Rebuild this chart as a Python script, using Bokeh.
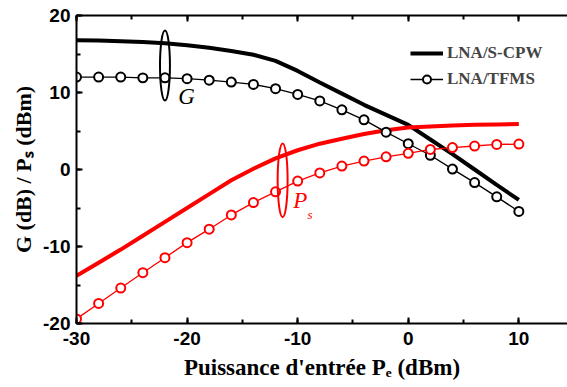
from bokeh.plotting import figure
from bokeh.models import (Label, Legend, LegendItem, LinearAxis, Range1d,
                          SingleIntervalTicker, CustomJSTickFormatter)
from bokeh.embed import file_html
from bokeh.resources import INLINE

# ---- data ----
pe = [-30, -28, -26, -24, -22, -20, -18, -16, -14, -12, -10,
      -8, -6, -4, -2, 0, 2, 4, 6, 8, 10]
g_cpw = [16.8, 16.75, 16.65, 16.55, 16.4, 16.15, 15.8, 15.4, 14.9, 14.1, 12.8,
         11.3, 9.85, 8.4, 7.1, 5.8, 3.9, 2.0, 0.0, -2.0, -3.95]
ps_cpw = [-13.8, -12.1, -10.4, -8.6, -6.8, -5.0, -3.2, -1.4, 0.1, 1.45, 2.5,
          3.35, 4.0, 4.6, 5.1, 5.45, 5.6, 5.7, 5.8, 5.85, 5.9]
g_tfms = [12.0, 12.0, 12.0, 11.9, 11.9, 11.8, 11.6, 11.35, 11.05, 10.5, 9.75,
          8.9, 7.75, 6.45, 4.85, 3.35, 1.85, 0.05, -1.7, -3.55, -5.45]
ps_tfms = [-19.4, -17.4, -15.4, -13.4, -11.45, -9.5, -7.75, -5.9, -4.3, -2.9, -1.5,
           -0.45, 0.45, 1.1, 1.65, 2.1, 2.6, 2.85, 3.05, 3.25, 3.3]

legend_labels = ["LNA/S-CPW", "LNA/TFMS"]
x_title = "Puissance d'entrée P\u2091 (dBm)"
y_title = "G (dB) / P\u209b (dBm)"
x_ticks_interval = 10
y_ticks_interval = 10

SERIF = "Liberation Serif"
SANS = "Liberation Sans"
RED = "#ff0000"

p = figure(frame_width=491, frame_height=308,
           x_range=Range1d(-30, 14.4), y_range=Range1d(-20, 20),
           output_backend="svg", toolbar_location=None,
           min_border_left=76, min_border_right=0, min_border_top=15,
           min_border_bottom=64)
p.xgrid.visible = False
p.ygrid.visible = False
p.outline_line_color = None
p.background_fill_color = "white"
p.border_fill_color = "white"

top = LinearAxis()
p.add_layout(top, "above")
bottom = p.below[0]
left = p.left[0]

fmt = CustomJSTickFormatter(code="return tick.toFixed(0)")
for ax, interval in ((bottom, x_ticks_interval), (top, x_ticks_interval),
                     (left, y_ticks_interval)):
    ax.ticker = SingleIntervalTicker(interval=interval, num_minor_ticks=2)
    ax.formatter = fmt
    ax.axis_line_width = 2
    ax.axis_line_color = "black"
    ax.major_tick_in = 6
    ax.major_tick_out = 0
    ax.minor_tick_in = 4
    ax.minor_tick_out = 0
    ax.major_tick_line_width = 2
    ax.minor_tick_line_width = 2
    ax.major_label_text_font = SANS
    ax.major_label_text_font_style = "bold"
    ax.major_label_text_font_size = "19px"
    ax.major_label_text_color = "black"
    ax.axis_label_text_font = SERIF
    ax.axis_label_text_font_style = "bold"
    ax.axis_label_text_color = "black"

bottom.major_label_standoff = 8
left.major_label_standoff = 6
top.formatter = CustomJSTickFormatter(code="return ''")
top.major_label_standoff = 0

bottom.axis_label = x_title
bottom.axis_label_text_font_size = "23px"
bottom.axis_label_standoff = 7
left.axis_label = y_title
left.axis_label_text_font_size = "22px"
left.axis_label_standoff = 4

# ---- series ----
l1 = p.line(pe, g_cpw, line_color="black", line_width=4)
l2 = p.line(pe, ps_cpw, line_color=RED, line_width=4)
l3 = p.line(pe, g_tfms, line_color="black", line_width=1.3)
s3 = p.scatter(pe, g_tfms, marker="circle", size=9, line_color="black",
               line_width=2, fill_color="white")
l4 = p.line(pe, ps_tfms, line_color=RED, line_width=1.3)
s4 = p.scatter(pe, ps_tfms, marker="circle", size=9, line_color=RED,
               line_width=2, fill_color="white")

# ---- ellipse annotations ----
p.ellipse(x=[-22], y=[13.5], width=0.9, height=9.1, fill_color=None,
          line_color="black", line_width=2)
p.ellipse(x=[-11.36], y=[-1.4], width=0.9, height=9.6, fill_color=None,
          line_color=RED, line_width=2)

p.add_layout(Label(x=-20.8, y=7.9, text="G", text_font=SERIF,
                   text_font_style="italic", text_font_size="23px",
                   text_color="black"))
p.add_layout(Label(x=-10.4, y=-5.65, text="P", text_font=SERIF,
                   text_font_style="italic", text_font_size="23px",
                   text_color=RED))
p.add_layout(Label(x=-9.1, y=-6.8, text="s", text_font=SERIF,
                   text_font_style="italic", text_font_size="13px",
                   text_color=RED))

# ---- legend ----
legend = Legend(items=[LegendItem(label=legend_labels[0], renderers=[l1]),
                       LegendItem(label=legend_labels[1], renderers=[l3, s3])],
                location=(334, 234), border_line_color=None,
                background_fill_alpha=0, label_text_font=SERIF,
                label_text_font_style="bold", label_text_font_size="17px",
                glyph_width=33, glyph_height=20, label_height=20, spacing=6,
                padding=0, margin=0, label_standoff=4)
p.add_layout(legend)

open("out.html", "w").write(file_html(p, INLINE))
